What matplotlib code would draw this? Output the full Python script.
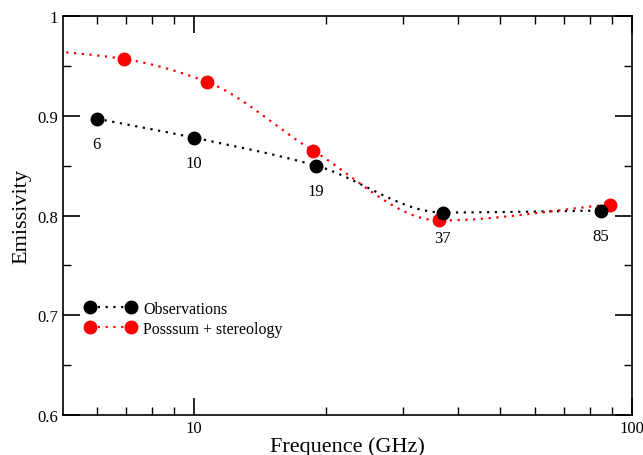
import numpy as np
import matplotlib
matplotlib.use("Agg")
import matplotlib.pyplot as plt
from matplotlib.ticker import FixedLocator, NullFormatter, FixedFormatter

obs_freq = [6.0, 10.0, 19.0, 37.0, 85.0]
obs_emis = [0.897, 0.878, 0.850, 0.803, 0.805]
obs_labels = ["6", "10", "19", "37", "85"]

mod_freq = [4.0, 6.9, 10.7, 18.7, 36.3, 89.0]
mod_emis = [0.968, 0.957, 0.934, 0.865, 0.795, 0.811]

plt.rcParams['font.family'] = ['Liberation Serif', 'DejaVu Serif']


def smooth(xs, ys, n=40):
    # monotone cubic (Fritsch-Carlson) in log-x space
    x = np.log10(np.asarray(xs, float))
    y = np.asarray(ys, float)
    h = np.diff(x)
    d = np.diff(y) / h
    m = np.zeros_like(y)
    m[0], m[-1] = d[0], d[-1]
    for i in range(1, len(y) - 1):
        if d[i - 1] * d[i] <= 0:
            m[i] = 0.0
        else:
            w1 = 2 * h[i] + h[i - 1]
            w2 = h[i] + 2 * h[i - 1]
            m[i] = (w1 + w2) / (w1 / d[i - 1] + w2 / d[i])
    ox, oy = [], []
    for i in range(len(h)):
        t = np.linspace(0, 1, n, endpoint=False)
        h00 = 2 * t**3 - 3 * t**2 + 1
        h10 = t**3 - 2 * t**2 + t
        h01 = -2 * t**3 + 3 * t**2
        h11 = t**3 - t**2
        ox.extend(x[i] + t * h[i])
        oy.extend(h00 * y[i] + h10 * h[i] * m[i] + h01 * y[i + 1] + h11 * h[i] * m[i + 1])
    ox.append(x[-1]); oy.append(y[-1])
    return 10 ** np.array(ox), np.array(oy)


fig = plt.figure(figsize=(6.43, 4.56), dpi=100)
ax = fig.add_axes([0.098, 0.0877, 0.885, 0.875])
ax.set_xscale('log')
ax.set_xlim(5.02, 100)
ax.set_ylim(0.6, 1.0)

dot = (0, (1, 2.5))
sx, sy = smooth(obs_freq, obs_emis)
ax.plot(sx, sy, color='black', ls=dot, lw=1.6)
sx, sy = smooth(mod_freq, mod_emis)
ax.plot(sx, sy, color='red', ls=dot, lw=1.6)

ax.plot(mod_freq, mod_emis, 'o', color='red', ms=9, zorder=3)
ax.plot(obs_freq, obs_emis, 'o', color='black', ms=9, zorder=3)

for f, e, lab in zip(obs_freq, obs_emis, obs_labels):
    ax.annotate(lab, (f, e), xytext=(0, -18.5), textcoords='offset points',
                ha='center', va='center', fontsize=12)

# legend proxies
h1, = ax.plot([], [], 'o', color='black', ms=9, ls=dot, lw=1.6)
h2, = ax.plot([], [], 'o', color='red', ms=9, ls=dot, lw=1.6)
ax.legend([h1, h2], ['Observations', 'Posssum + stereology'], loc='lower left',
          bbox_to_anchor=(0.013, 0.16), frameon=False, numpoints=2,
          handlelength=3.2, handletextpad=0.45, fontsize=11.5, labelspacing=0.25)

ax.xaxis.set_major_locator(FixedLocator([10, 100]))
ax.xaxis.set_major_formatter(FixedFormatter(['10', '100']))
ax.xaxis.set_minor_locator(FixedLocator([6, 7, 8, 9, 20, 30, 40, 50, 60, 70, 80, 90]))
ax.xaxis.set_minor_formatter(NullFormatter())
ax.set_yticks([0.6, 0.7, 0.8, 0.9, 1.0])
ax.set_yticklabels(['0.6', '0.7', '0.8', '0.9', '1'])
ax.set_yticks([0.65, 0.75, 0.85, 0.95], minor=True)
ax.tick_params(which='both', direction='in', top=True, right=True, labelsize=12)
ax.tick_params(which='major', length=12, width=1.2)
ax.tick_params(which='minor', length=6, width=1.0)
for s in ax.spines.values():
    s.set_linewidth(1.2)

ax.set_xlabel('Frequence (GHz)', fontsize=16, labelpad=0)
ax.set_ylabel('Emissivity', fontsize=16, labelpad=4)

fig.savefig('out.png', dpi=100)
